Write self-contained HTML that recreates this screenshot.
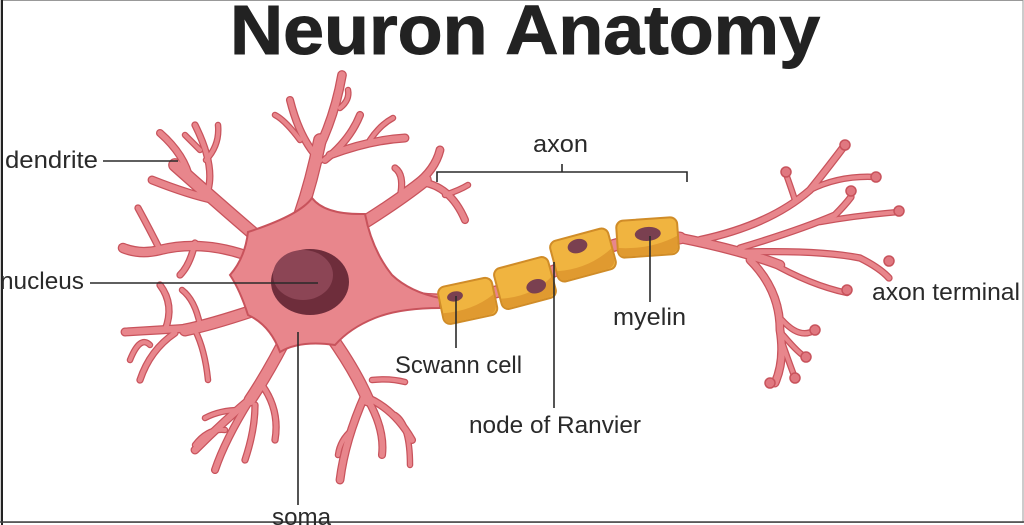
<!DOCTYPE html>
<html><head><meta charset="utf-8"><style>
html,body{margin:0;padding:0;background:#fff;width:1024px;height:525px;overflow:hidden}
svg{display:block}
text{font-family:"Liberation Sans",sans-serif;fill:#2a2a2a}
</style></head><body>
<svg id="s" width="1024" height="525" viewBox="0 0 1024 525" xmlns="http://www.w3.org/2000/svg">
<rect x="1" y="0.5" width="1022" height="522" fill="#fff" stroke="#999" stroke-width="1"/>
<line x1="2" y1="0" x2="2" y2="525" stroke="#222" stroke-width="2"/>
<line x1="0" y1="522" x2="1024" y2="522" stroke="#444" stroke-width="1.5"/>
<text x="230" y="54" font-size="70" font-weight="bold" textLength="590" lengthAdjust="spacingAndGlyphs" style="fill:#222;stroke:#222;stroke-width:1">Neuron Anatomy</text>
<g id="neu"></g>
<g id="my">
 <g transform="rotate(-12 467 300)"><rect x="440" y="282" width="55" height="38" rx="7" fill="#f0b440" stroke="#d08c28" stroke-width="2"/><path d="M441 308 Q470 312 494 300 L494 312 Q492 319 486 319 L447 319 Q441 319 441 313 Z" fill="#e09a30"/><ellipse cx="456" cy="294" rx="8" ry="5" fill="#7a4050"/></g>
 <g transform="rotate(-15 525 283)"><rect x="497" y="262" width="56" height="42" rx="7" fill="#f0b440" stroke="#d08c28" stroke-width="2"/><path d="M498 292 Q528 298 552 284 L552 296 Q550 303 543 303 L504 303 Q498 303 498 297 Z" fill="#e09a30"/><ellipse cx="535" cy="289" rx="10" ry="7" fill="#7a4050"/></g>
 <g transform="rotate(-15 583 255)"><rect x="553" y="234" width="60" height="42" rx="7" fill="#f0b440" stroke="#d08c28" stroke-width="2"/><path d="M554 264 Q585 270 612 256 L612 268 Q610 275 603 275 L560 275 Q554 275 554 269 Z" fill="#e09a30"/><ellipse cx="580" cy="245" rx="10" ry="7" fill="#7a4050"/></g>
 <g transform="rotate(-4 647 237)"><rect x="617" y="219" width="61" height="37" rx="7" fill="#f0b440" stroke="#d08c28" stroke-width="2"/><path d="M618 246 Q650 250 677 238 L677 250 Q675 255 669 255 L624 255 Q618 255 618 250 Z" fill="#e09a30"/><ellipse cx="648" cy="234" rx="13" ry="7" fill="#7a4050"/></g>
</g>
<g stroke="#2a2a2a" stroke-width="1.6" fill="none">
 <line x1="103" y1="161" x2="178" y2="161"/>
 <line x1="90" y1="283" x2="318" y2="283"/>
 <line x1="298" y1="332" x2="298" y2="505"/>
 <path d="M437 182 V172 H687 V182 M562 172 V164"/>
 <line x1="456" y1="296" x2="456" y2="348"/>
 <line x1="554" y1="262" x2="554" y2="408"/>
 <line x1="650" y1="236" x2="650" y2="302"/>
</g>
<g font-size="24">
<text x="5" y="168" textLength="93" lengthAdjust="spacingAndGlyphs">dendrite</text>
<text x="0" y="289" textLength="84" lengthAdjust="spacingAndGlyphs">nucleus</text>
<text x="272" y="525" textLength="59" lengthAdjust="spacingAndGlyphs">soma</text>
<text x="533" y="152" textLength="55" lengthAdjust="spacingAndGlyphs">axon</text>
<text x="395" y="373" textLength="127" lengthAdjust="spacingAndGlyphs">Scwann cell</text>
<text x="469" y="433" textLength="172" lengthAdjust="spacingAndGlyphs">node of Ranvier</text>
<text x="613" y="325" textLength="73" lengthAdjust="spacingAndGlyphs">myelin</text>
<text x="872" y="300" textLength="148" lengthAdjust="spacingAndGlyphs">axon terminal</text>
</g>
</svg>
<script>
var N='http://www.w3.org/2000/svg';
var g=document.getElementById('neu');
var br=[
[14,"M255 235 Q220 205 175 165"],[8,"M215 200 Q190 195 152 180"],[7,"M190 180 Q185 155 160 133"],[6,"M208 190 Q215 165 195 125"],[5,"M206 160 Q220 145 218 125"],[5,"M200 150 Q190 140 185 135"],
[10,"M245 255 Q200 240 160 250 Q140 255 123 248"],[6,"M160 250 Q150 230 138 208"],[6,"M195 243 Q190 265 180 275"],
[14,"M300 215 Q312 180 320 140"],[9,"M318 150 Q335 115 342 75"],[7,"M320 160 Q300 140 290 100"],[5,"M300 140 Q285 120 275 115"],[7,"M325 160 Q350 140 360 115"],[8,"M330 155 Q370 140 405 138"],[5,"M370 140 Q380 125 393 118"],[5,"M340 108 Q350 100 348 90"],
[14,"M360 225 Q400 200 425 180"],[8,"M415 185 Q435 170 440 150"],[7,"M420 182 Q450 185 465 220"],[6,"M400 198 Q405 175 395 168"],[5,"M445 195 Q460 190 468 185"],
[13,"M380 290 Q410 300 445 300 Q480 298 520 285 Q570 265 600 250 Q640 235 680 238"],
[13,"M255 310 Q210 325 185 330"],[8,"M190 328 Q160 330 125 332"],[6,"M175 333 Q150 350 140 380"],[6,"M165 330 Q175 305 160 285"],[5,"M200 325 Q195 300 182 290"],[5,"M150 345 Q140 335 130 360"],[5,"M195 330 Q205 350 208 380"],
[13,"M290 330 Q270 370 250 400"],[8,"M255 395 Q225 420 195 450"],[7,"M250 400 Q225 440 215 470"],[6,"M255 405 Q255 430 245 460"],[6,"M262 385 Q280 410 275 440"],[5,"M240 410 Q220 410 205 418"],[5,"M225 430 Q208 428 195 445"],
[13,"M330 335 Q355 370 368 400"],[8,"M365 395 Q345 440 340 480"],[7,"M368 400 Q385 430 382 455"],[7,"M368 398 Q395 410 412 440"],[5,"M395 415 Q410 425 410 465"],[5,"M352 430 Q340 440 338 455"],[5,"M372 380 Q390 378 405 382"],
[10,"M680 238 Q740 250 780 265"],[7,"M700 240 Q770 225 810 190 Q830 165 845 145"],[5,"M795 200 Q790 185 786 174"],[5,"M810 190 Q840 175 876 177"],[6,"M740 248 Q800 230 835 215 Q845 205 851 197"],[5,"M820 222 Q860 215 899 212"],[6,"M745 252 Q820 250 860 258 Q880 268 889 278"],[5,"M770 262 Q810 285 847 293"],
[8,"M750 260 Q780 290 780 330 Q785 360 775 383"],[5,"M782 320 Q800 340 815 330"],[5,"M783 335 Q800 355 806 357"],[5,"M783 345 Q790 365 795 378"]
];
var bulbs=[[845,145],[876,177],[786,172],[851,191],[899,211],[889,261],[847,290],[815,330],[806,357],[795,378],[770,383]];
function mk(col,extra){br.forEach(function(b){var p=document.createElementNS(N,'path');p.setAttribute('d',b[1]);p.setAttribute('fill','none');p.setAttribute('stroke',col);p.setAttribute('stroke-linecap','round');p.setAttribute('stroke-width',b[0]*0.8+extra);g.appendChild(p);});}
mk('#c8535c',2.5);mk('#e8868c',0);
var s=document.createElementNS(N,'path');
s.setAttribute('d','M248 232 Q300 215 312 198 Q325 215 365 214 Q372 250 392 275 Q410 292 440 298 L440 308 Q400 308 375 318 Q350 328 335 345 Q300 340 280 352 Q270 325 248 315 Q240 290 230 275 Q245 258 248 232 Z');
s.setAttribute('fill','#e8868c');s.setAttribute('stroke','#c8535c');s.setAttribute('stroke-width','2');g.appendChild(s);
bulbs.forEach(function(b){var c=document.createElementNS(N,'circle');c.setAttribute('cx',b[0]);c.setAttribute('cy',b[1]);c.setAttribute('r',5);c.setAttribute('fill','#e07880');c.setAttribute('stroke','#c8535c');c.setAttribute('stroke-width','1.5');g.appendChild(c);});
var e1=document.createElementNS(N,'ellipse');e1.setAttribute('cx',310);e1.setAttribute('cy',282);e1.setAttribute('rx',39);e1.setAttribute('ry',33);e1.setAttribute('fill','#6e2d3b');g.appendChild(e1);
var e2=document.createElementNS(N,'ellipse');e2.setAttribute('cx',303);e2.setAttribute('cy',275);e2.setAttribute('rx',30);e2.setAttribute('ry',25);e2.setAttribute('fill','#8c4555');g.appendChild(e2);
</script>
</body></html>
